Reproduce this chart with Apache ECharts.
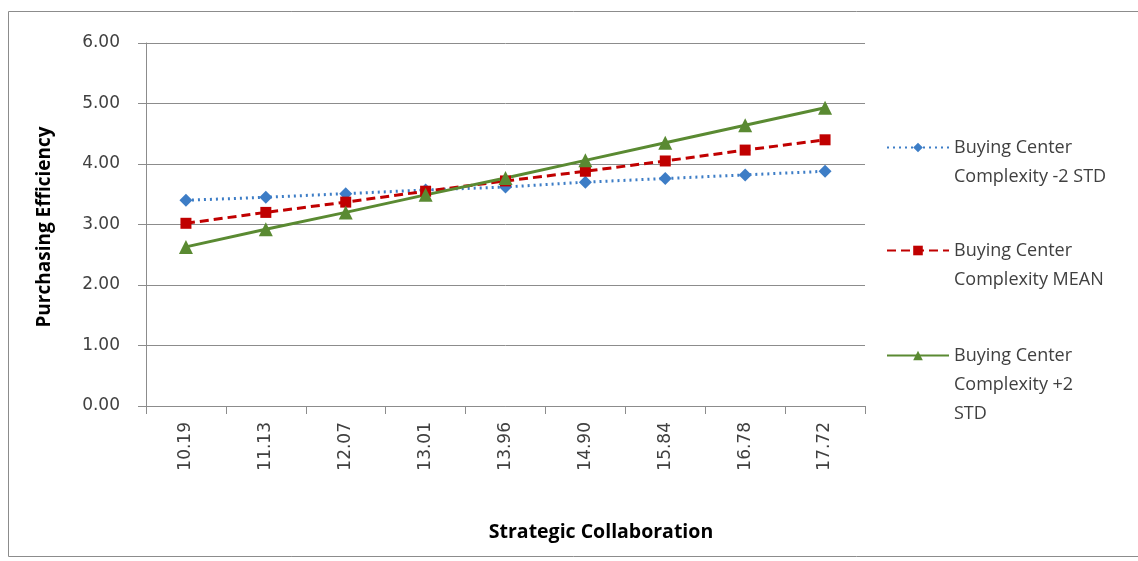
<!DOCTYPE html>
<html>
<head>
<meta charset="utf-8">
<script src="https://cdn.jsdelivr.net/npm/echarts@6/dist/echarts.min.js"></script>
<style>
  html, body { margin: 0; padding: 0; background: #fff; }
  #chart { width: 1138px; height: 561px; }
</style>
</head>
<body>
<div id="chart"></div>
<script>
// values
const categories = ['10.19', '11.13', '12.07', '13.01', '13.96', '14.90', '15.84', '16.78', '17.72'];
const minus2Std = [3.40, 3.45, 3.51, 3.57, 3.62, 3.70, 3.76, 3.82, 3.88];
const meanVals = [3.02, 3.20, 3.37, 3.55, 3.72, 3.88, 4.05, 4.23, 4.40];
const plus2Std = [2.63, 2.92, 3.20, 3.49, 3.77, 4.06, 4.35, 4.64, 4.93];
const seriesNames = [
  'Buying Center Complexity -2 STD',
  'Buying Center Complexity MEAN',
  'Buying Center Complexity +2 STD'
];
// legend text as wrapped in the picture (leading blank lines keep icon on first line)
const legendText = {
  'Buying Center Complexity -2 STD': '\nBuying Center\nComplexity -2 STD',
  'Buying Center Complexity MEAN': '\nBuying Center\nComplexity MEAN',
  'Buying Center Complexity +2 STD': '\n\nBuying Center\nComplexity +2\nSTD'
};

const font = '"Open Sans", "Liberation Sans", sans-serif';
const tickFont = '"DejaVu Sans", sans-serif';
const gray = '#8c8c8c';
const textColor = '#404040';

function legendFor(name, top) {
  return {
    data: [name],
    left: 886,
    top: top,
    padding: 0,
    itemWidth: 62,
    itemHeight: 12,
    formatter: (n) => legendText[n],
    textStyle: { fontFamily: font, fontSize: 18, color: textColor, lineHeight: 29 }
  };
}

const chart = echarts.init(document.getElementById('chart'));
chart.setOption({
  animation: false,
  grid: { left: 146, right: 273, top: 43, bottom: 155 },
  legend: [
    legendFor(seriesNames[0], 104),
    legendFor(seriesNames[1], 207),
    legendFor(seriesNames[2], 283)
  ],
  xAxis: {
    type: 'category',
    data: categories,
    boundaryGap: true,
    axisLine: { lineStyle: { color: gray, width: 1 } },
    axisTick: { show: true, length: 8, lineStyle: { color: gray } },
    axisLabel: { rotate: 90, margin: 16, fontFamily: tickFont, fontSize: 17, color: textColor }
  },
  yAxis: {
    type: 'value',
    min: 0,
    max: 6,
    interval: 1,
    axisLine: { show: true, lineStyle: { color: gray, width: 1 } },
    axisTick: { show: true, length: 8, lineStyle: { color: gray } },
    splitLine: { lineStyle: { color: gray, width: 1 } },
    axisLabel: {
      margin: 26,
      fontFamily: tickFont, fontSize: 17, color: textColor,
      formatter: (v) => v.toFixed(2)
    }
  },
  series: [
    {
      name: seriesNames[0],
      type: 'line',
      data: minus2Std,
      symbol: 'diamond',
      symbolSize: 13,
      itemStyle: { color: '#3d7dc6' },
      lineStyle: { color: '#3d7dc6', width: 3, type: [2, 4] }
    },
    {
      name: seriesNames[1],
      type: 'line',
      data: meanVals,
      symbol: 'rect',
      symbolSize: 11,
      itemStyle: { color: '#c00000' },
      lineStyle: { color: '#c00000', width: 3, type: [9, 5] }
    },
    {
      name: seriesNames[2],
      type: 'line',
      data: plus2Std,
      symbol: 'triangle',
      symbolSize: 14,
      itemStyle: { color: '#5a8a32' },
      lineStyle: { color: '#5a8a32', width: 3, type: 'solid' }
    }
  ],
  graphic: [
    {
      type: 'rect',
      shape: { x: 8.5, y: 11.5, width: 1140, height: 545 },
      style: { fill: 'none', stroke: gray, lineWidth: 1 },
      silent: true,
      z: -1
    },
    {
      type: 'text',
      x: 45, y: 227,
      rotation: Math.PI / 2,
      style: {
        text: 'Purchasing Efficiency',
        font: 'bold 19px ' + font,
        fill: '#000',
        align: 'center',
        verticalAlign: 'middle'
      }
    },
    {
      type: 'text',
      x: 601, y: 532,
      style: {
        text: 'Strategic Collaboration',
        font: 'bold 19.5px ' + font,
        fill: '#000',
        align: 'center',
        verticalAlign: 'middle'
      }
    }
  ]
});
</script>
</body>
</html>
